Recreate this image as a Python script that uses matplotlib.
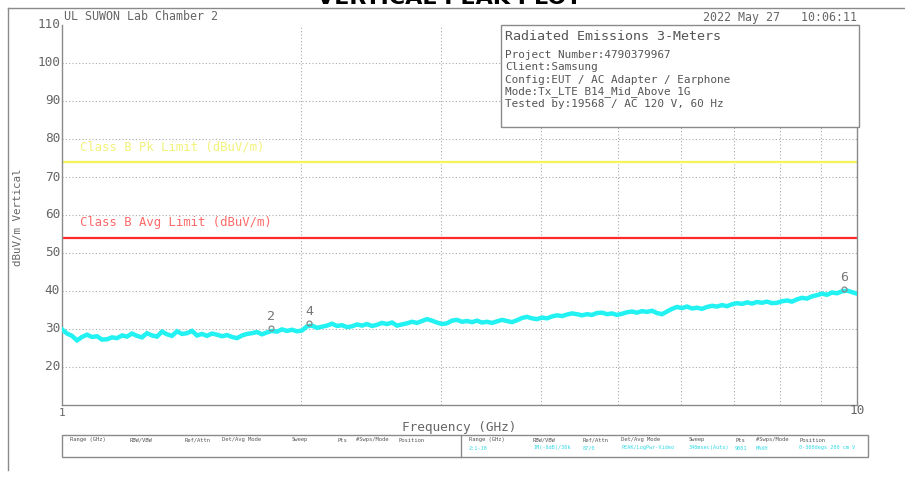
import numpy as np
import matplotlib
matplotlib.use("Agg")
import matplotlib.pyplot as plt
from matplotlib.patches import Rectangle
from matplotlib.lines import Line2D

# ---------------- data ----------------
level_dbuv = [
    29.9, 28.8, 28.2, 27.0, 27.9, 28.5, 27.9, 28.1, 27.2, 27.3,
    27.8, 27.6, 28.3, 28.0, 28.8, 28.2, 27.8, 28.9, 28.3, 28.0,
    29.3, 28.6, 28.2, 29.4, 28.7, 28.9, 29.5, 28.3, 28.7, 28.2,
    28.8, 28.5, 28.1, 28.4, 27.9, 27.6, 28.3, 28.7, 28.9, 29.2,
    28.6, 29.1, 29.5, 29.3, 29.9, 29.5, 29.8, 29.4, 29.6, 30.7,
    30.9, 30.3, 30.6, 30.9, 31.4, 30.8, 31.0, 30.5, 30.7, 31.2,
    30.9, 31.3, 30.8, 31.1, 31.6, 31.3, 31.7, 30.9, 31.2, 31.5,
    31.9, 31.6, 32.1, 32.6, 32.2, 31.7, 31.3, 31.5, 32.2, 32.4,
    31.9, 32.1, 31.8, 32.2, 31.7, 31.9, 31.6, 32.0, 32.4, 32.1,
    31.8, 32.3, 32.9, 33.2, 32.8, 32.6, 33.0, 32.8, 33.3, 33.6,
    33.4, 33.8, 34.1, 33.9, 33.6, 33.9, 33.7, 34.2, 34.3, 33.9,
    34.1, 33.7, 34.0, 34.4, 34.6, 34.3, 34.7, 34.5, 34.8, 34.2,
    33.9, 34.6, 35.3, 35.8, 35.5, 35.9, 35.4, 35.6, 35.3, 35.8,
    36.1, 35.9, 36.3, 36.0, 36.5, 36.8, 36.6, 37.0, 36.7, 37.1,
    36.9, 37.2, 36.8, 36.9, 37.3, 37.5, 37.2, 37.8, 38.2, 38.0,
    38.6, 38.9, 39.3, 39.0, 39.6, 39.4, 39.9, 40.1, 39.7, 39.3,
]
freq_ghz = np.logspace(0, 1, len(level_dbuv))

marker_ids = ["2", "4", "6"]
marker_freq = [1.83, 2.045, 9.63]
marker_level = [30.2, 31.5, 40.6]

pk_limit = 74.0
avg_limit = 54.0
y_ticks = [20, 30, 40, 50, 60, 70, 80, 90, 100, 110]
x_grid = [2, 3, 4, 5, 6, 7, 8, 9]

info_title = "Radiated Emissions 3-Meters"
info_lines = [
    "Project Number:4790379967",
    "Client:Samsung",
    "Config:EUT / AC Adapter / Earphone",
    "Mode:Tx_LTE B14_Mid_Above 1G",
    "Tested by:19568 / AC 120 V, 60 Hz",
]
table_headers = ["Range (GHz)", "RBW/VBW", "Ref/Attn", "Det/Avg Mode",
                 "Sweep", "Pts", "#Swps/Mode", "Position"]
table_values = ["2:1-10", "1M(-6dB)/30k", "87/0", "PEAK/LogPwr-Video",
                "340msec(Auto)", "9001", "MAXH", "0-360degs 200 cm V"]

# ---------------- figure ----------------
W, H = 905, 496
fig = plt.figure(figsize=(W / 100, H / 100), dpi=100)
plt.rcParams['font.family'] = ['DejaVu Sans']
MONO = 'DejaVu Sans Mono'

def P(x, y):
    return (x / W, 1 - y / H)

L, R, T, B = 62, 857, 25, 405
ax = fig.add_axes([L / W, 1 - B / H, (R - L) / W, (B - T) / H])
ax.set_xscale('log')
ax.set_xlim(1, 10)
ax.set_ylim(10, 110)

gray = '#8a8a8a'
txtgray = '#666666'

for s in ['left', 'bottom', 'right']:
    ax.spines[s].set_color(gray)
    ax.spines[s].set_linewidth(1.0)
ax.spines['top'].set_visible(False)

ax.set_xticks([1, 10])
ax.set_xticklabels([])
ax.set_xticks([], minor=True)
ax.set_yticks(y_ticks)
ax.set_yticklabels([])
ax.tick_params(length=0)

for yv in y_ticks[:-1]:
    ax.axhline(yv, color='#aaaaaa', lw=0.8, ls=(0, (1, 2)), zorder=1)
for xv in x_grid:
    ax.axvline(xv, color='#aaaaaa', lw=0.8, ls=(0, (1, 2)), zorder=1)

# limits
ax.axhline(pk_limit, color='#f4f45a', lw=1.6, zorder=2)
ax.axhline(avg_limit, color='#ff2a2a', lw=1.6, zorder=2)
ax.text(1.055, pk_limit + 2.2, "Class B Pk Limit (dBuV/m)", color='#f2f27a',
        fontsize=8.8, family=MONO, va='bottom', ha='left')
ax.text(1.055, avg_limit + 2.2, "Class B Avg Limit (dBuV/m)", color='#ff6a6a',
        fontsize=8.8, family=MONO, va='bottom', ha='left')

# trace
ax.plot(freq_ghz, level_dbuv, color='#22f2f2', lw=3.2, zorder=3,
        solid_joinstyle='miter')

# markers
for mid, mf, ml in zip(marker_ids, marker_freq, marker_level):
    ax.plot([mf], [ml], marker='o', ms=3.5, mfc='none', mec='#888888',
            mew=0.9, zorder=4)
    ax.text(mf, ml + 1.3, mid, color='#777777', fontsize=9.5, family=MONO,
            ha='center', va='bottom', zorder=4)

# y tick labels
for yv in y_ticks:
    ypix = B - (yv - 10) * (B - T) / 100
    fig.text(*P(60, ypix), str(yv), color=txtgray, fontsize=9.2, family=MONO,
             ha='right', va='center')
# x tick labels
fig.text(*P(62, 413), "1", color=txtgray, fontsize=8, family=MONO,
         ha='center', va='center')
fig.text(*P(857, 411), "10", color=txtgray, fontsize=9.2, family=MONO,
         ha='center', va='center')
fig.text(*P(459, 427), "Frequency (GHz)", color=txtgray, fontsize=9.2,
         family=MONO, ha='center', va='center')
fig.text(*P(18, 217), "dBuV/m Vertical", color=txtgray, fontsize=7.8,
         family=MONO, ha='center', va='center', rotation=90)

# header
fig.text(*P(64, 17), "UL SUWON Lab Chamber 2", color=txtgray, fontsize=8.4,
         family=MONO, ha='left', va='center')
fig.text(*P(857, 17), "2022 May 27   10:06:11", color=txtgray, fontsize=8.4,
         family=MONO, ha='right', va='center')
fig.text(0.497, 1 - 4 / H, "VERTICAL PEAK PLOT", color='black', fontsize=16,
         fontweight='bold', ha='center', va='baseline')

# outer frame
fig.add_artist(Line2D([8 / W, 1.0], [1 - 8 / H, 1 - 8 / H],
                      transform=fig.transFigure, color=gray, lw=1.0))
fig.add_artist(Line2D([8 / W, 8 / W], [1 - 8 / H, 1 - 470 / H],
                      transform=fig.transFigure, color=gray, lw=1.0))

# info box
fig.add_artist(Rectangle(P(501, 127), (859 - 501) / W, (127 - 25) / H,
                         transform=fig.transFigure, fill=True, fc='white',
                         ec=gray, lw=1.0, zorder=5))
fig.text(*P(505, 37), info_title, color='#555555', fontsize=9.6, family=MONO,
         ha='left', va='center', zorder=6)
for i, line in enumerate(info_lines):
    fig.text(*P(505, 55 + i * 12.3), line, color='#555555', fontsize=7.9,
             family=MONO, ha='left', va='center', zorder=6)

# bottom table
fig.add_artist(Rectangle(P(62, 457), (868 - 62) / W, (457 - 435) / H,
                         transform=fig.transFigure, fill=False, ec=gray,
                         lw=1.0))
fig.add_artist(Line2D([461 / W, 461 / W], [1 - 435 / H, 1 - 457 / H],
                      transform=fig.transFigure, color=gray, lw=1.0))
left_x = [70, 130, 185, 222, 292, 337, 356, 398]
right_x = [469, 533, 583, 621, 689, 735, 756, 799]
for hx, h in zip(left_x, table_headers):
    fig.text(*P(hx, 440), h, color='#555555', fontsize=4.0, family=MONO,
             ha='left', va='center')
for hx, h, v in zip(right_x, table_headers, table_values):
    fig.text(*P(hx, 440), h, color='#555555', fontsize=4.0, family=MONO,
             ha='left', va='center')
    fig.text(*P(hx, 448), v, color='#30d8e8', fontsize=3.7, family=MONO,
             ha='left', va='center')

fig.savefig("out.png", dpi=100)
